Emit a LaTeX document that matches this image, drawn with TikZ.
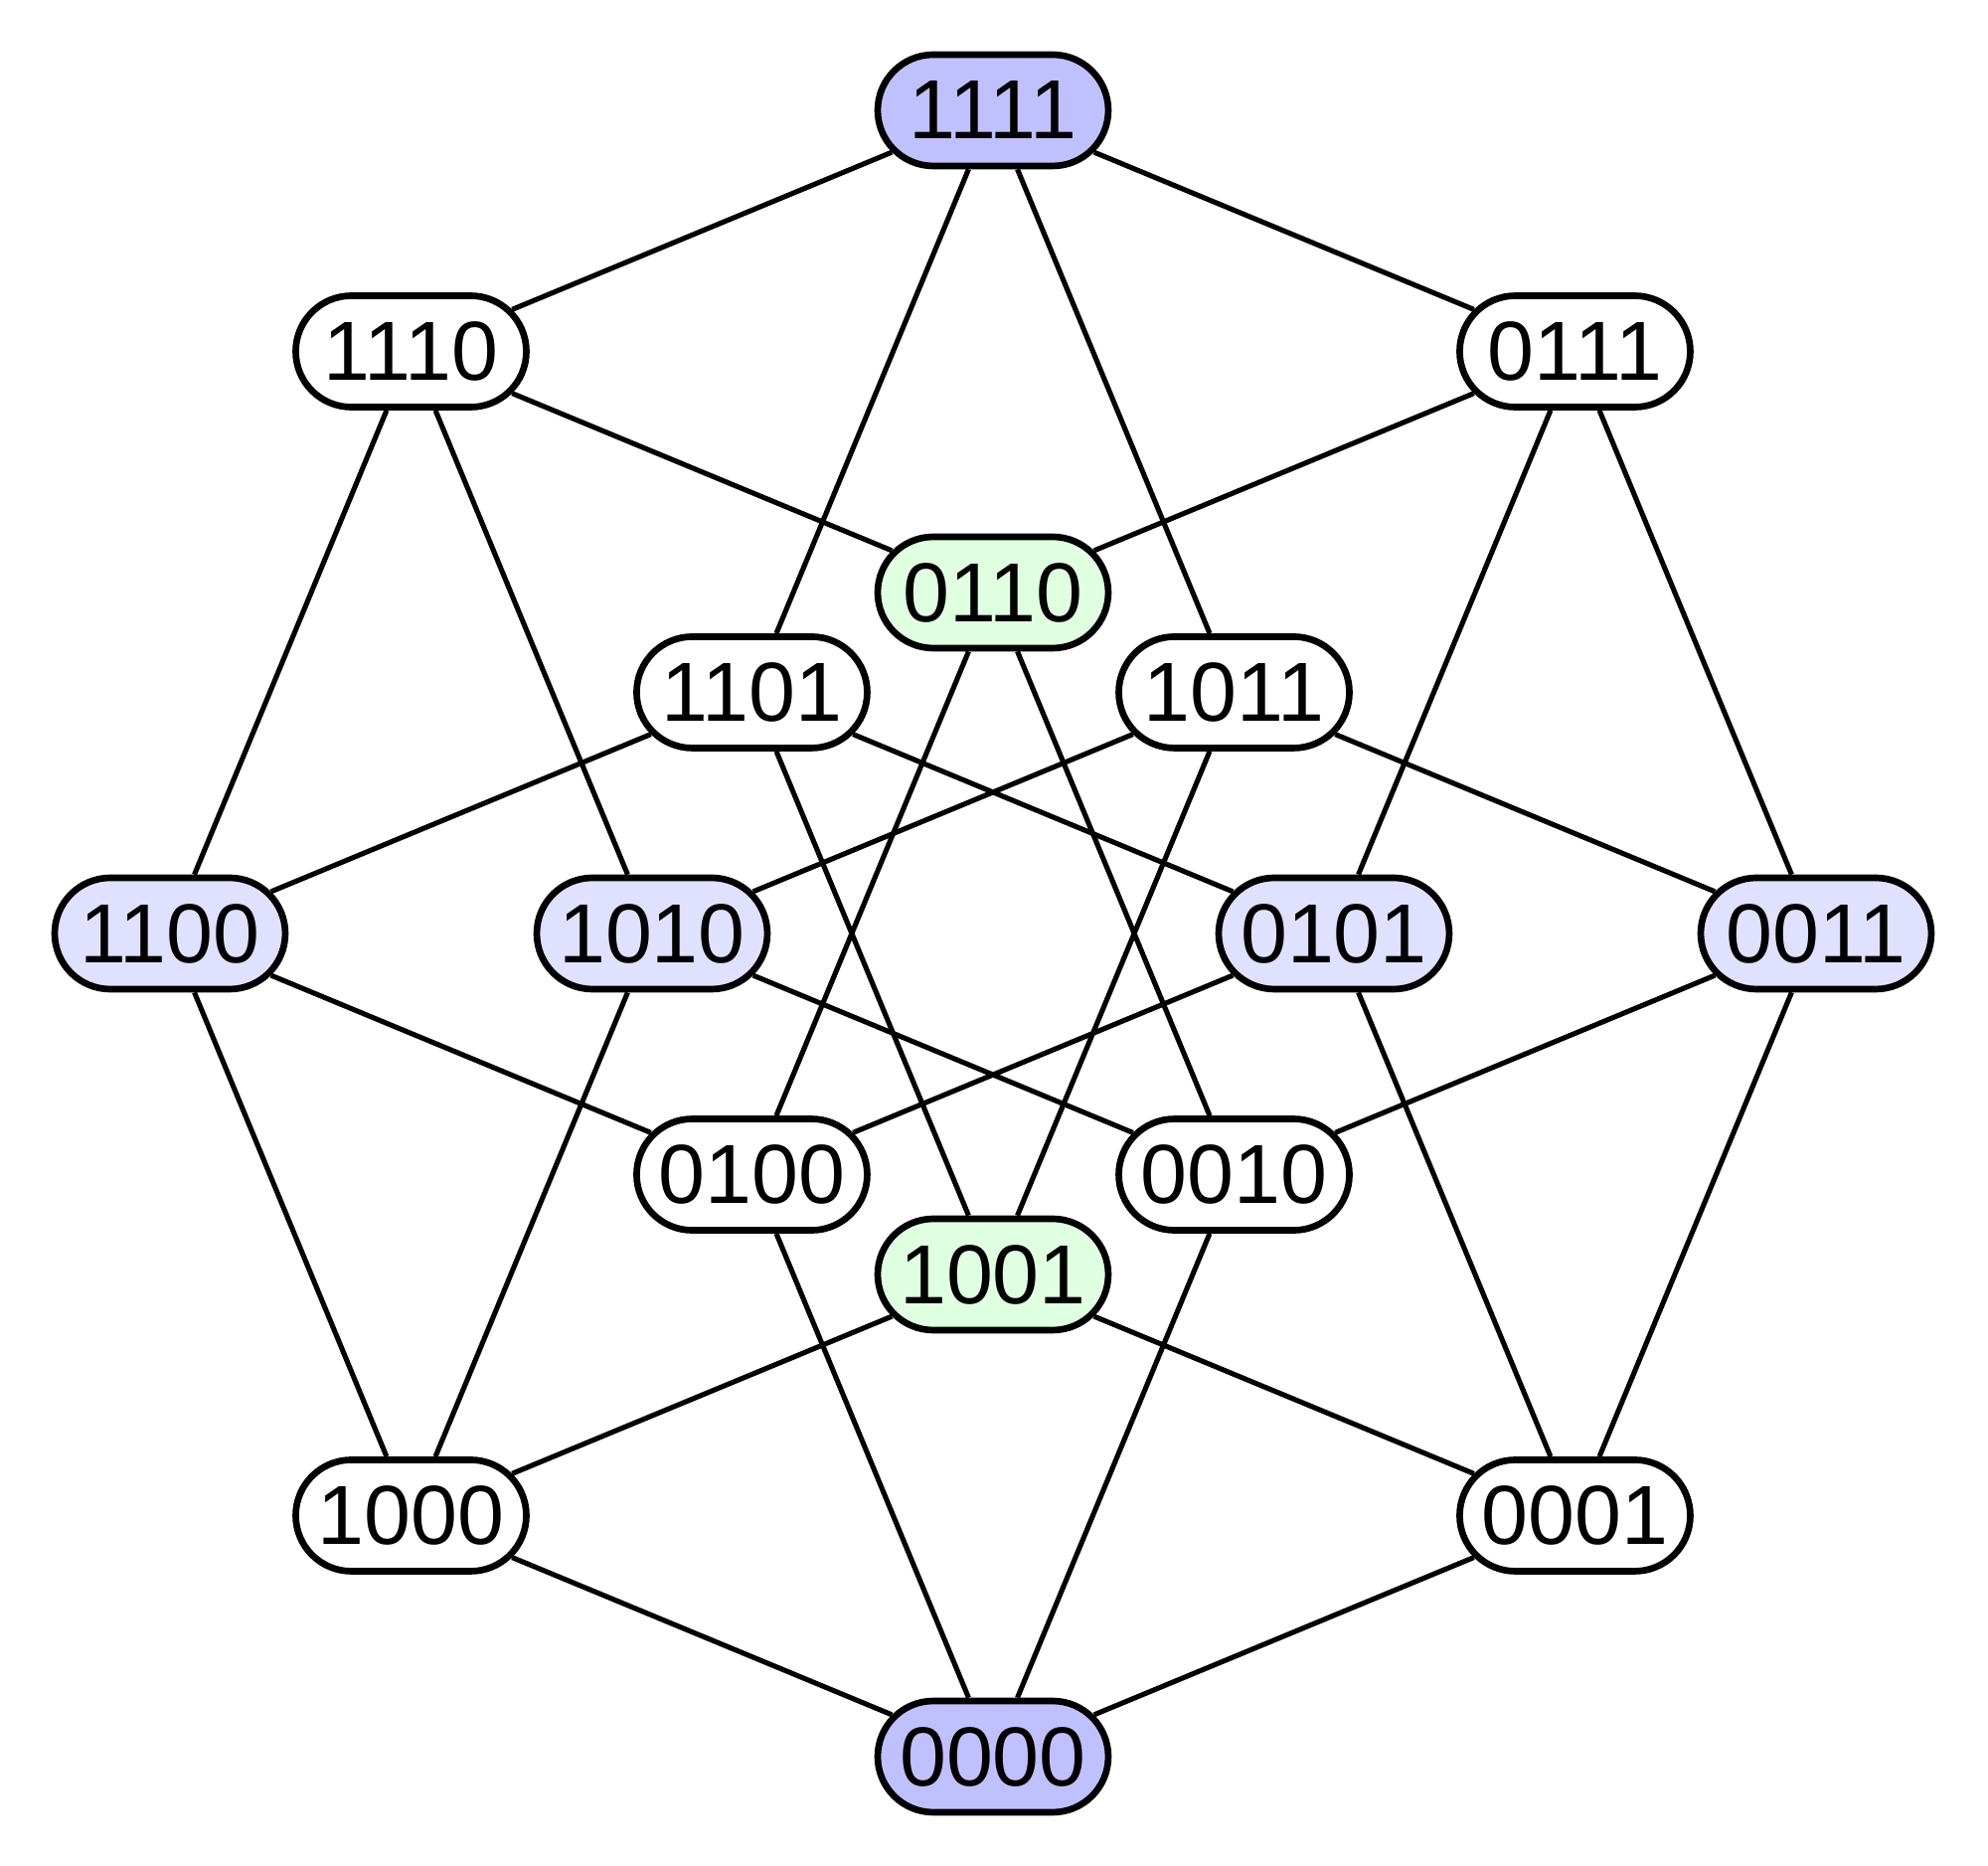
\documentclass[tikz,border=0pt]{standalone}
\usepackage{fontspec}
\setmainfont{Liberation Sans}
\usepackage{tikz}
\usetikzlibrary{shapes.misc}

\definecolor{topblue}{HTML}{C0C0FF}
\definecolor{midblue}{HTML}{E0E0FF}
\definecolor{midgreen}{HTML}{E0FFE0}

\begin{document}
\begin{tikzpicture}[
  vertex/.style={
    draw=black,
    line width=1.9pt,
    rounded rectangle,
    fill=white,
    minimum width=2.32cm,
    minimum height=1.12cm,
    inner sep=0pt,
    font=\fontsize{24}{28}\selectfont
  },
  extreme/.style={vertex, fill=topblue},
  balanced/.style={vertex, fill=midblue},
  antipodal/.style={vertex, fill=midgreen},
  edge/.style={line width=1.45pt, draw=black}
]
  \useasboundingbox (-9.99,-9.38) rectangle (10.01,9.39);

  % outer octagon
  \node[extreme] (v1111) at (90:8.28) {1111};
  \node[vertex] (v1110) at (135:8.28) {1110};
  \node[balanced] (v1100) at (180:8.28) {1100};
  \node[vertex] (v1000) at (225:8.28) {1000};
  \node[extreme] (v0000) at (270:8.28) {0000};
  \node[vertex] (v0001) at (315:8.28) {0001};
  \node[balanced] (v0011) at (0:8.28) {0011};
  \node[vertex] (v0111) at (45:8.28) {0111};

  % inner octagon
  \node[antipodal] (v0110) at (90:3.43) {0110};
  \node[vertex] (v1101) at (135:3.43) {1101};
  \node[balanced] (v1010) at (180:3.43) {1010};
  \node[vertex] (v0100) at (225:3.43) {0100};
  \node[antipodal] (v1001) at (270:3.43) {1001};
  \node[vertex] (v0010) at (315:3.43) {0010};
  \node[balanced] (v0101) at (0:3.43) {0101};
  \node[vertex] (v1011) at (45:3.43) {1011};

  \draw[edge] (v0000) -- (v0001);
  \draw[edge] (v0000) -- (v0010);
  \draw[edge] (v0000) -- (v0100);
  \draw[edge] (v0000) -- (v1000);
  \draw[edge] (v0001) -- (v0011);
  \draw[edge] (v0001) -- (v0101);
  \draw[edge] (v0001) -- (v1001);
  \draw[edge] (v0010) -- (v0011);
  \draw[edge] (v0010) -- (v0110);
  \draw[edge] (v0010) -- (v1010);
  \draw[edge] (v0011) -- (v0111);
  \draw[edge] (v0011) -- (v1011);
  \draw[edge] (v0100) -- (v0101);
  \draw[edge] (v0100) -- (v0110);
  \draw[edge] (v0100) -- (v1100);
  \draw[edge] (v0101) -- (v0111);
  \draw[edge] (v0101) -- (v1101);
  \draw[edge] (v0110) -- (v0111);
  \draw[edge] (v0110) -- (v1110);
  \draw[edge] (v0111) -- (v1111);
  \draw[edge] (v1000) -- (v1001);
  \draw[edge] (v1000) -- (v1010);
  \draw[edge] (v1000) -- (v1100);
  \draw[edge] (v1001) -- (v1011);
  \draw[edge] (v1001) -- (v1101);
  \draw[edge] (v1010) -- (v1011);
  \draw[edge] (v1010) -- (v1110);
  \draw[edge] (v1011) -- (v1111);
  \draw[edge] (v1100) -- (v1101);
  \draw[edge] (v1100) -- (v1110);
  \draw[edge] (v1101) -- (v1111);
  \draw[edge] (v1110) -- (v1111);
\end{tikzpicture}
\end{document}
